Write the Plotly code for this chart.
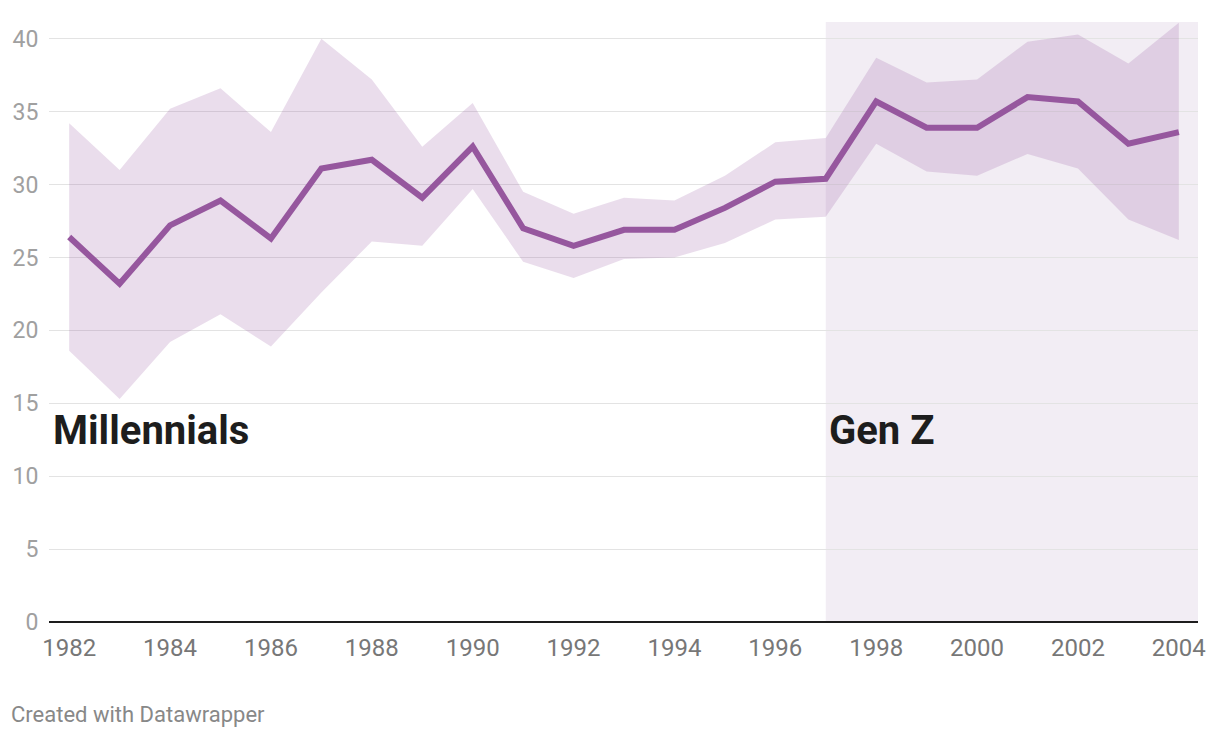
import plotly.graph_objects as go

years = list(range(1982, 2005))
mean_vals = [26.4, 23.2, 27.2, 28.9, 26.3, 31.1, 31.7, 29.1, 32.6, 27.0, 25.8, 26.9,
             26.9, 28.4, 30.2, 30.4, 35.7, 33.9, 33.9, 36.0, 35.7, 32.8, 33.6]
upper_vals = [34.2, 31.0, 35.2, 36.6, 33.6, 40.0, 37.2, 32.6, 35.6, 29.5, 28.0, 29.1,
              28.9, 30.6, 32.9, 33.2, 38.7, 37.0, 37.2, 39.8, 40.3, 38.3, 41.1]
lower_vals = [18.6, 15.3, 19.2, 21.1, 18.9, 22.6, 26.1, 25.8, 29.7, 24.7, 23.6, 24.9,
              25.0, 26.0, 27.6, 27.8, 32.8, 30.9, 30.6, 32.1, 31.1, 27.6, 26.2]
y_ticks = [0, 5, 10, 15, 20, 25, 30, 35, 40]
x_ticks = list(range(1982, 2005, 2))
genz_start = 1997

PURPLE = "#96579e"
BAND = "rgba(150,87,158,0.2)"

fig = go.Figure()

fig.add_trace(go.Scatter(x=years, y=lower_vals, mode="lines", line=dict(width=0),
                         hoverinfo="skip", showlegend=False))
fig.add_trace(go.Scatter(x=years, y=upper_vals, mode="lines", line=dict(width=0),
                         fill="tonexty", fillcolor=BAND, hoverinfo="skip", showlegend=False))
fig.add_trace(go.Scatter(x=years, y=mean_vals, mode="lines",
                         line=dict(color=PURPLE, width=6), showlegend=False))

x_min, x_max = 1981.6, 2004.38
y_max = 41.15

fig.add_shape(type="rect", xref="x", yref="y", x0=genz_start, x1=x_max, y0=0, y1=y_max,
              fillcolor="#f2edf4", line=dict(width=0), layer="below")

fig.add_annotation(x=1981.63, y=13.1, xref="x", yref="y", text="<b>Millennials</b>",
                   showarrow=False, xanchor="left", yanchor="middle",
                   font=dict(family="Roboto", size=40, color="#1d1d1d"))
fig.add_annotation(x=1997.02, y=13.1, xref="x", yref="y", text="<b>Gen Z</b>",
                   showarrow=False, xanchor="left", yanchor="middle",
                   font=dict(family="Roboto", size=40, color="#1d1d1d"))
fig.add_annotation(x=-40/1149, y=-(714-621.7)/600, xref="paper", yref="paper",
                   text="Created with Datawrapper",
                   showarrow=False, xanchor="left", yanchor="middle",
                   font=dict(family="Roboto", size=22, color="#888888"))

fig.update_layout(
    width=1220, height=738,
    margin=dict(l=41, r=30, t=14, b=124, autoexpand=False),
    paper_bgcolor="white", plot_bgcolor="white",
    font=dict(family="Roboto"),
    showlegend=False,
)

fig.update_xaxes(range=[x_min, x_max], tickvals=x_ticks, ticktext=[str(t) for t in x_ticks],
                 showgrid=False, zeroline=False, showline=False, automargin=False,
                 tickfont=dict(family="Roboto", size=24, color="#777777"),
                 ticks="outside", ticklen=4, tickcolor="rgba(0,0,0,0)")
fig.update_yaxes(range=[0, y_max], tickvals=y_ticks, ticktext=[str(t) for t in y_ticks],
                 showgrid=True, gridcolor="#e3e3e3", gridwidth=1,
                 zeroline=True, zerolinecolor="#1d1d1d", zerolinewidth=2,
                 showline=False, automargin=False,
                 tickfont=dict(family="Roboto", size=23, color="#a0a0a0"),
                 ticks="outside", ticklen=5, tickcolor="rgba(0,0,0,0)")

fig.write_html("out.html")
